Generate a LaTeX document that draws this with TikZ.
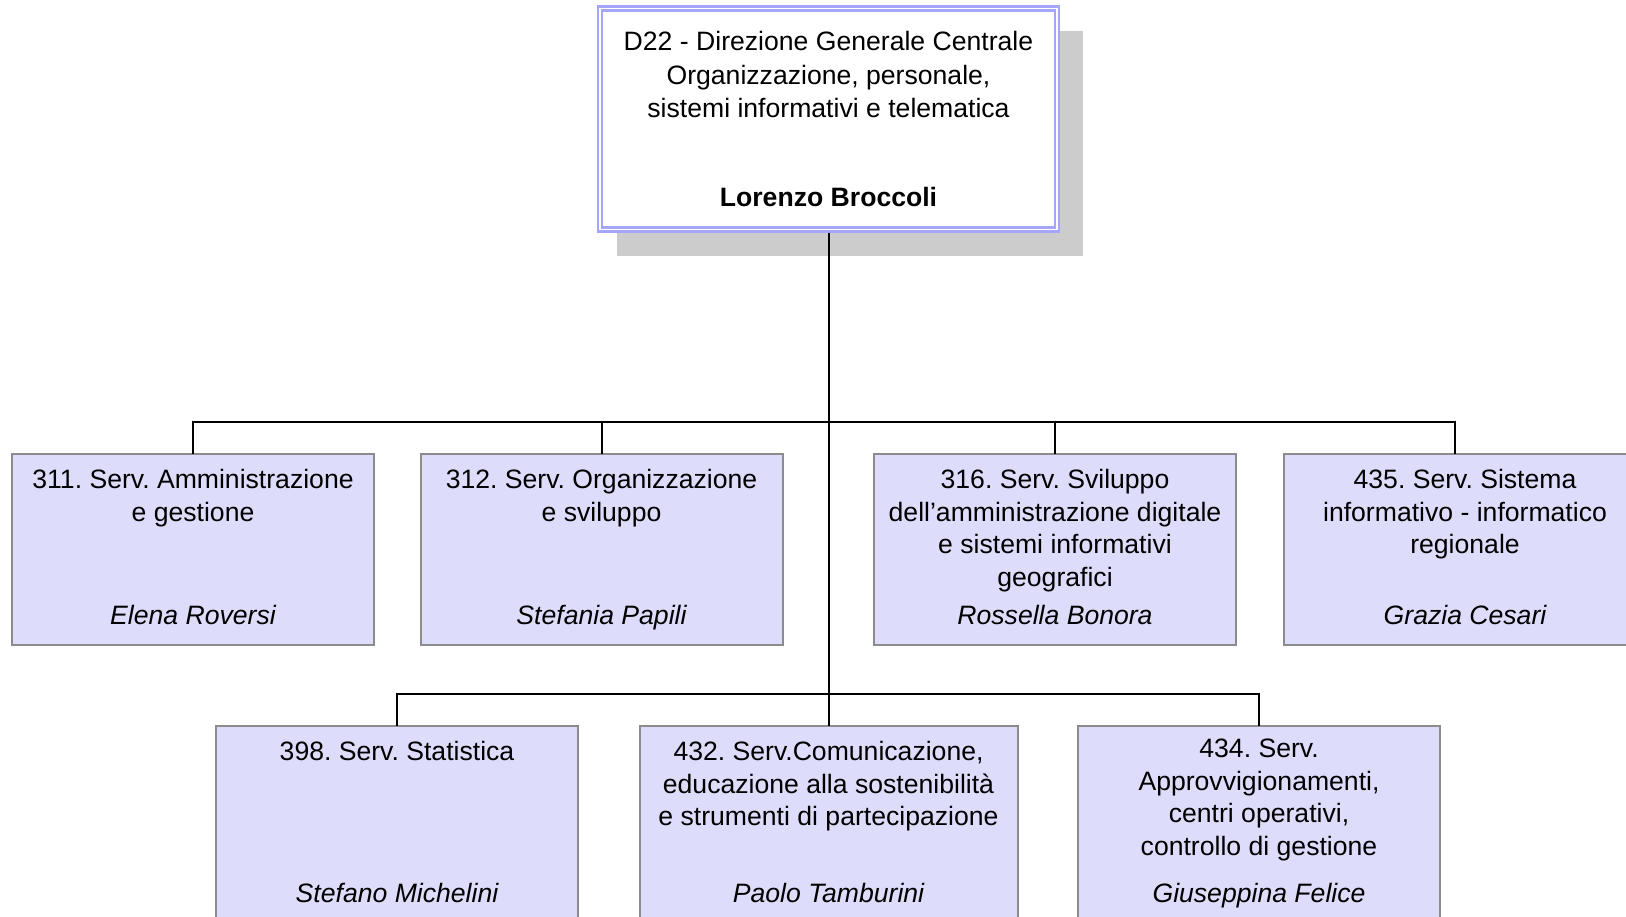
\documentclass[tikz,border=0pt]{standalone}
\usepackage{fontspec}
\setmainfont{Liberation Sans}
\usepackage{tikz}
\usetikzlibrary{positioning,shadows}
\definecolor{dirline}{RGB}{165,165,250}
\definecolor{svcfill}{RGB}{221,221,251}
\definecolor{svcline}{RGB}{140,140,140}
\definecolor{shadowgray}{RGB}{204,204,204}
\newcommand{\orgfont}{\fontsize{13.3}{16.3}\selectfont}
\frenchspacing

\begin{document}
\begin{tikzpicture}[x=0.5pt, y=-0.5pt,
 dirbox/.style={draw=dirline, double=white, line width=1.1pt, double distance=0.9pt,
   fill=white, minimum width=228.5pt, minimum height=110.5pt, inner sep=0pt, outer sep=0pt,
   drop shadow={shadow xshift=10.5pt, shadow yshift=-12pt, shadow scale=1.02,
   fill=shadowgray, opacity=1}},
 svc/.style={draw=svcline, line width=1pt, fill=svcfill, minimum width=181pt,
   minimum height=95.5pt, inner sep=0pt, outer sep=0pt},
 svctext/.style={font=\orgfont, align=center, inner sep=0pt, outer sep=0pt},
 headname/.style={font=\orgfont\itshape, inner sep=0pt, outer sep=0pt, text depth=0pt},
 link/.style={line width=1pt}]
\useasboundingbox (0,0) rectangle (1626,916);
\clip (0,0) rectangle (1626,916);

\node[dirbox] (d22) at (828.5,119) {};
\node[svctext, font=\fontsize{13.3}{16.6}\selectfont, below=9.6pt of d22.north] (d22t) {\strut D22 - Direzione Generale Centrale\\Organizzazione, personale,\\sistemi informativi e telematica};
\node[headname, font=\orgfont\bfseries, above=11.3pt of d22.south] (d22h) {Lorenzo Broccoli};

\node[svc] (s311) at (193,549) {};
\node[svc] (s312) at (601.5,549) {};
\node[svc] (s316) at (1055,549) {};
\node[svc] (s435) at (1465,549) {};
\node[svc, minimum height=99pt] (s398) at (397,824.5) {};
\node[svc, minimum height=99pt, minimum width=189pt] (s432) at (828.5,824.5) {};
\node[svc, minimum height=99pt] (s434) at (1259,824.5) {};

\node[svctext, below=6.2pt of s311.north] (s311t) {\strut 311. Serv. Amministrazione\\e gestione};
\node[headname, above=10pt of s311.south] (s311h) {Elena Roversi};
\node[svctext, below=6.2pt of s312.north] (s312t) {\strut 312. Serv. Organizzazione\\e sviluppo};
\node[headname, above=10pt of s312.south] (s312h) {Stefania Papili};
\node[svctext, below=6.2pt of s316.north] (s316t) {\strut 316. Serv. Sviluppo\\dell’amministrazione digitale\\e sistemi informativi\\geografici};
\node[headname, above=10pt of s316.south] (s316h) {Rossella Bonora};
\node[svctext, below=6.2pt of s435.north] (s435t) {\strut 435. Serv. Sistema\\informativo - informatico\\regionale};
\node[headname, above=10pt of s435.south] (s435h) {Grazia Cesari};
\node[svctext, below=6.2pt of s398.north] (s398t) {\strut 398. Serv. Statistica};
\node[headname, above=10.5pt of s398.south] (s398h) {Stefano Michelini};
\node[svctext, below=6.2pt of s432.north] (s432t) {\strut 432. Serv.Comunicazione,\\educazione alla sostenibilità\\e strumenti di partecipazione};
\node[headname, above=10.5pt of s432.south] (s432h) {Paolo Tamburini};
\node[svctext, below=4.7pt of s434.north] (s434t) {\strut 434. Serv.\\Approvvigionamenti,\\centri operativi,\\controllo di gestione};
\node[headname, above=10.5pt of s434.south] (s434h) {Giuseppina Felice};

\coordinate (bus1) at (828.5,422);
\coordinate (bus2) at (828.5,694);
\draw[link] ([yshift=-1.6pt]d22.south) -- (s432.north);
\foreach \s in {s311,s312,s316}
  \draw[link] (\s.north) |- (bus1);
\draw[link] ([xshift=-5pt]s435.north) |- (bus1);
\foreach \s in {s398,s434}
  \draw[link] (\s.north) |- (bus2);
\end{tikzpicture}
\end{document}
